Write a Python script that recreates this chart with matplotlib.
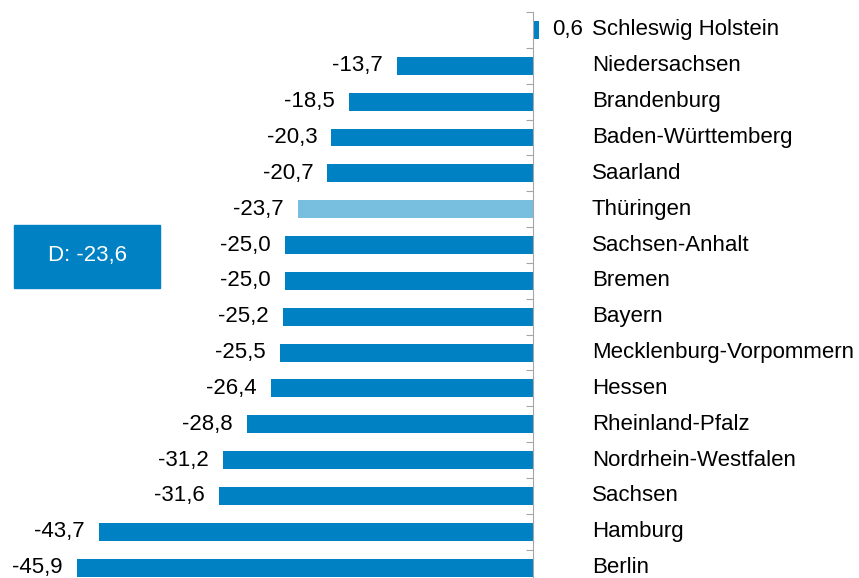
import matplotlib
matplotlib.use("Agg")
import matplotlib.pyplot as plt
from matplotlib.patches import Rectangle

plt.rcParams["font.family"] = ["Liberation Sans", "DejaVu Sans"]

# data, top to bottom
states = ["Schleswig Holstein", "Niedersachsen", "Brandenburg", "Baden-Württemberg",
          "Saarland", "Thüringen", "Sachsen-Anhalt", "Bremen", "Bayern",
          "Mecklenburg-Vorpommern", "Hessen", "Rheinland-Pfalz",
          "Nordrhein-Westfalen", "Sachsen", "Hamburg", "Berlin"]
values = [0.6, -13.7, -18.5, -20.3, -20.7, -23.7, -25.0, -25.0, -25.2,
          -25.5, -26.4, -28.8, -31.2, -31.6, -43.7, -45.9]
highlight = "Thüringen"
germany_avg = -23.6

W, H, DPI = 859, 578, 100
dark = "#0081C4"
light = "#78BFDF"

fig = plt.figure(figsize=(W / DPI, H / DPI), dpi=DPI)
# axes spans full width; rows from y=12px down past the bottom edge
row_px = 35.85
n = len(states)
top_px = 12
ax = fig.add_axes([0, (H - top_px - n * row_px) / H, 1, n * row_px / H])

px_per_unit = 9.935
zero_px = 533
ax.set_xlim(-zero_px / px_per_unit, (W - zero_px) / px_per_unit)
ax.set_ylim(n - 0.5, -0.5)

colors = [light if s == highlight else dark for s in states]
ax.barh(range(n), values, height=0.5, color=colors)

for sp in ["top", "right", "bottom"]:
    ax.spines[sp].set_visible(False)
ax.spines["left"].set_position(("data", 0))
ax.spines["left"].set_color("#A6A6A6")
ax.set_xticks([])
ax.set_yticks([i - 0.5 for i in range(n + 1)])
ax.set_yticklabels([])
ax.tick_params(axis="y", direction="out", length=5, color="#A6A6A6")

pt = 72 / DPI
fs = 16
for i, (s, v) in enumerate(zip(states, values)):
    lab = f"{v:.1f}".replace(".", ",")
    if v < 0:
        ax.annotate(lab, (v, i), xytext=(-14 * pt, 0), textcoords="offset points",
                    ha="right", va="center", fontsize=fs, color="black")
    else:
        ax.annotate(lab, (v, i), xytext=(13 * pt, 0), textcoords="offset points",
                    ha="left", va="center", fontsize=fs, color="black")
    ax.annotate(s, (0, i), xytext=(59 * pt, 0), textcoords="offset points",
                ha="left", va="center", fontsize=fs, color="black")

# Germany average box
fig.patches.append(Rectangle((14 / W, (H - 288) / H), 146 / W, 63 / H,
                             transform=fig.transFigure, color=dark, zorder=0))
fig.text(87 / W, (H - 256) / H, "D: " + f"{germany_avg:.1f}".replace(".", ","),
         ha="center", va="center", fontsize=fs, color="white")

fig.savefig("out.png", dpi=DPI)
